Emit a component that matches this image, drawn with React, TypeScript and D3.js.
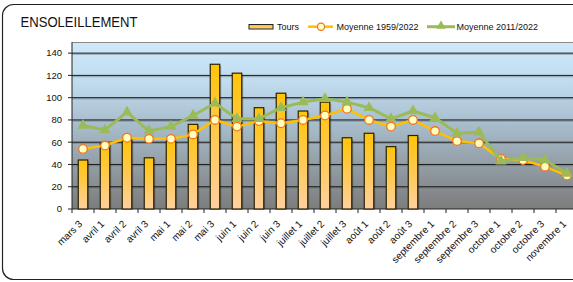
import React, { useEffect } from "react";
import * as d3 from "d3";

const categories = [
  "mars 3", "avril 1", "avril 2", "avril 3", "mai 1", "mai 2", "mai 3",
  "juin 1", "juin 2", "juin 3", "juillet 1", "juillet 2", "juillet 3",
  "août 1", "août 2", "août 3", "septembre 1", "septembre 2", "septembre 3",
  "octobre 1", "octobre 2", "octobre 3", "novembre 1",
];
const tours: (number | null)[] = [
  44, 59, 63, 46, 61, 76, 130, 122, 91, 104, 88, 96, 64, 68, 56, 66,
  null, null, null, null, null, null, null,
];
const moy1959 = [
  54, 57, 64, 63, 63, 67, 80, 74, 79, 77, 80, 84, 90, 80, 74, 80, 70, 61, 59, 45, 44, 38, 30,
];
const moy2011 = [
  75, 71, 87, 70, 74, 84, 95, 81, 81, 91, 96, 99, 96, 91, 81, 88, 82, 68, 69, 43, 46, 44, 32,
];
const yTicks = [0, 20, 40, 60, 80, 100, 120, 140];
const title = "ENSOLEILLEMENT";
const legendLabels = ["Tours", "Moyenne 1959/2022", "Moyenne 2011/2022"];

const W = 573;
const H = 282;
const left = 72;
const right = 578;
const top = 42;
const bottom = 209;
const font = "Liberation Sans, Arial, sans-serif";

export default function App() {
  useEffect(() => {
    document.body.style.margin = "0";
  }, []);

  const x = d3.scaleBand<string>().domain(categories).range([left, right]).padding(0);
  const y = d3.scaleLinear().domain([0, 150]).range([bottom, top]);
  const bw = x.bandwidth();
  const barW = 9.5;
  const cx = (c: string) => (x(c) as number) + bw / 2;

  const line = d3
    .line<number>()
    .x((_, i) => cx(categories[i]))
    .y((d) => y(d));

  const tri = d3.symbol().type(d3.symbolTriangle).size(55)();

  return (
    <svg
      width={W}
      height={H}
      style={{ position: "absolute", left: 0, top: 0, display: "block" }}
      fontFamily={font}
    >
      <defs>
        <linearGradient id="bg" x1="0" y1="0" x2="0" y2="1">
          <stop offset="0" stopColor="#cde9fb" />
          <stop offset="0.25" stopColor="#c0dbee" />
          <stop offset="0.5" stopColor="#a7bccb" />
          <stop offset="1" stopColor="#7c7c7c" />
        </linearGradient>
        <linearGradient id="bar" x1="0" y1="0" x2="0" y2="1">
          <stop offset="0" stopColor="#ffc40a" />
          <stop offset="0.35" stopColor="#ffc83a" />
          <stop offset="1" stopColor="#ffd0a0" />
        </linearGradient>
        <clipPath id="clip">
          <rect x={0} y={0} width={W} height={H} />
        </clipPath>
      </defs>
      <rect x={0} y={0} width={W} height={H} fill="#fff" />
      <rect x={2.5} y={4.5} width={590} height={275} rx={11} fill="#fff" stroke="#222" strokeWidth={1.2} />

      <text
        x={20.5}
        y={26.7}
        fontSize={15}
        textLength={117}
        lengthAdjust="spacingAndGlyphs"
        fill="#111"
      >
        {title}
      </text>

      {/* plot background */}
      <rect x={left} y={top} width={right - left} height={bottom - top} fill="url(#bg)" />
      <line x1={left} x2={right} y1={top + 0.5} y2={top + 0.5} stroke="#8a8a8a" strokeWidth={1} />

      {/* gridlines */}
      {yTicks.filter((t) => t > 0).map((t) => (
        <g key={t}>
          <line x1={left} x2={right} y1={y(t) + 1} y2={y(t) + 1} stroke="#555" strokeOpacity={0.35} strokeWidth={1.5} />
          <line x1={left} x2={right} y1={y(t)} y2={y(t)} stroke="#1a1a1a" strokeWidth={1} />
        </g>
      ))}

      {/* axes */}
      <line x1={left} x2={left} y1={top} y2={bottom} stroke="#222" strokeWidth={1} />
      <line x1={left} x2={right} y1={bottom} y2={bottom} stroke="#222" strokeWidth={1} />
      {yTicks.map((t) => (
        <g key={t}>
          <line x1={left - 4} x2={left} y1={y(t)} y2={y(t)} stroke="#222" />
          <text x={left - 10} y={y(t)} dy="0.35em" textAnchor="end" fontSize={9.5} fill="#111">
            {t}
          </text>
        </g>
      ))}
      {categories.map((c) => (
        <line key={c} x1={x(c) as number} x2={x(c) as number} y1={bottom} y2={bottom + 4} stroke="#222" />
      ))}
      {categories.map((c) => (
        <text
          key={c}
          transform={`translate(${cx(c) - 2.5},${bottom + 13}) rotate(-45)`}
          textAnchor="end"
          dy="0.35em"
          fontSize={10}
          fill="#111"
        >
          {c}
        </text>
      ))}

      {/* bars */}
      {tours.map((v, i) =>
        v == null ? null : (
          <g key={i}>
            <rect
              x={cx(categories[i]) - barW / 2 + 1.5}
              y={y(v) + 1.5}
              width={barW}
              height={bottom - y(v) - 1.5}
              fill="#000"
              opacity={0.25}
            />
            <rect
              x={cx(categories[i]) - barW / 2}
              y={y(v)}
              width={barW}
              height={bottom - y(v)}
              fill="url(#bar)"
              stroke="#2b2200"
              strokeWidth={1.2}
            />
          </g>
        )
      )}

      {/* lines */}
      <g clipPath="url(#clip)">
        <path d={line(moy1959) || ""} fill="none" stroke="#ffc000" strokeWidth={2.5} />
        {moy1959.map((v, i) => (
          <circle key={i} cx={cx(categories[i])} cy={y(v)} r={4.3} fill="#ffffc0" stroke="#f7731c" strokeWidth={1.3} />
        ))}
        <path d={line(moy2011) || ""} fill="none" stroke="#9bbb59" strokeWidth={3} strokeLinejoin="round" />
        {moy2011.map((v, i) => (
          <path key={i} d={tri || ""} transform={`translate(${cx(categories[i])},${y(v)})`} fill="#9bbb59" />
        ))}
      </g>

      {/* legend */}
      <g fontSize={9} fill="#111">
        <rect x={249} y={24.5} width={24} height={4.5} fill="url(#bar)" stroke="#222" strokeWidth={1} />
        <text x={277} y={26.7} dy="0.35em">{legendLabels[0]}</text>
        <line x1={308} x2={333} y1={26.7} y2={26.7} stroke="#ffc000" strokeWidth={2.5} />
        <circle cx={321} cy={26.7} r={3.6} fill="#ffffc0" stroke="#f7731c" strokeWidth={1.2} />
        <text x={336.5} y={26.7} dy="0.35em">{legendLabels[1]}</text>
        <line x1={427} x2={455} y1={26.7} y2={26.7} stroke="#9bbb59" strokeWidth={3} />
        <path d={d3.symbol().type(d3.symbolTriangle).size(40)() || ""} transform="translate(441,26)" fill="#9bbb59" />
        <text x={456.5} y={26.7} dy="0.35em">{legendLabels[2]}</text>
      </g>
    </svg>
  );
}
